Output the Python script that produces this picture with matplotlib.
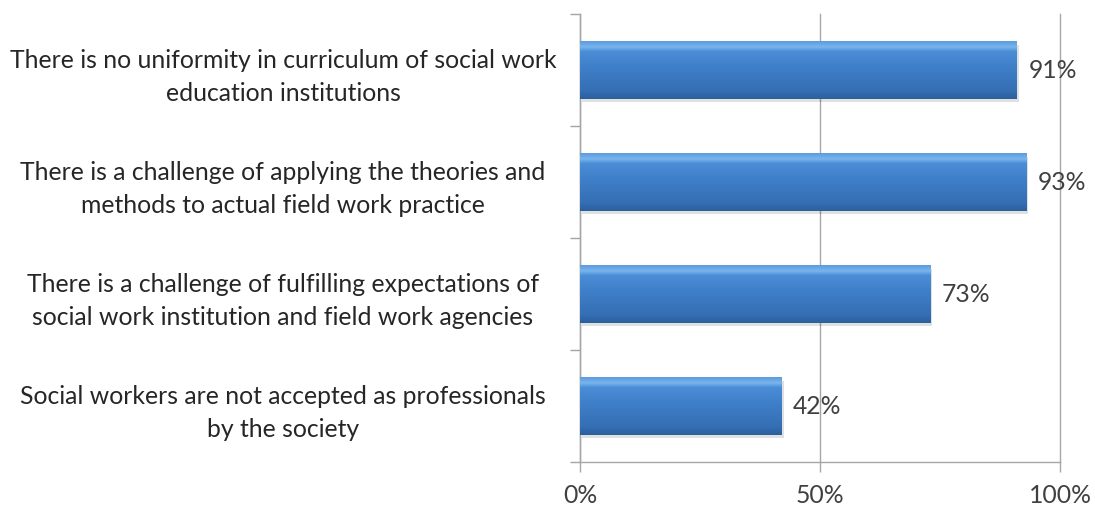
import matplotlib
matplotlib.use("Agg")
import matplotlib.pyplot as plt
import numpy as np
from matplotlib.colors import LinearSegmentedColormap
from matplotlib.ticker import FixedLocator

categories = [
    "There is no uniformity in curriculum of social work\neducation institutions",
    "There is a challenge of applying the theories and\nmethods to actual field work practice",
    "There is a challenge of fulfilling expectations of\nsocial work institution and field work agencies",
    "Social workers are not accepted as professionals\nby the society",
]
values = [91, 93, 73, 42]
xticks = [0, 50, 100]
xtick_labels = ["0%", "50%", "100%"]

plt.rcParams['font.family'] = ['Lato', 'DejaVu Sans']
FS = 17.8

fig = plt.figure(figsize=(10.95, 5.08), dpi=100)
ax = fig.add_axes([580/1095, 1-462/508, 480/1095, 448/508])

n = len(categories)
ypos = np.arange(n)[::-1]
h = 0.51
bars = ax.barh(ypos, values, height=h, color='#3f7fcb', edgecolor='none', zorder=3)

cmap = LinearSegmentedColormap.from_list('bar', [
    (0.0, '#2c5f9c'), (0.15, '#356fb5'), (0.55, '#3f7fc9'),
    (0.82, '#4a8dd6'), (0.9, '#7ab6ec'), (1.0, '#5a9ade')])
grad = np.linspace(0, 1, 256).reshape(-1, 1)
for b in bars:
    x0, y0 = b.get_x(), b.get_y()
    w, hh = b.get_width(), b.get_height()
    ax.add_patch(plt.Rectangle((x0 + 0.4, y0 - 0.03), w, hh, color='#000000', alpha=0.12,
                               zorder=2, lw=0))
    im = ax.imshow(grad, extent=(x0, x0 + w, y0, y0 + hh), origin='lower', cmap=cmap,
                   aspect='auto', zorder=4, interpolation='bilinear')
    im.set_clip_path(b)

for y, v in zip(ypos, values):
    ax.text(v + 2.4, y, f"{v}%", va='center', ha='left', fontsize=FS, color='#404040', zorder=5)

ax.set_xlim(0, 100)
ax.set_ylim(-0.5, n - 0.5)
ax.set_xticks(xticks)
ax.set_xticklabels(xtick_labels, fontsize=FS, color='#404040')
ax.xaxis.grid(True, color='#a6a6a6', lw=1, zorder=0)
for gl in ax.get_xgridlines():
    gl.set_clip_on(False)
ax.set_axisbelow(True)
ax.set_yticks(ypos)
ax.set_yticklabels(categories, fontsize=FS, color='#262626', ha='center', multialignment='center',
                   linespacing=1.55)
ax.yaxis.set_minor_locator(FixedLocator(np.arange(-0.5, n, 1.0)))
ax.tick_params(axis='y', which='major', length=0, pad=297 * 72 / 100)
ax.tick_params(axis='y', which='minor', length=7, color='#a6a6a6', width=1)
ax.tick_params(axis='x', which='major', length=7, color='#a6a6a6', width=1, pad=9)
for s in ['top', 'right']:
    ax.spines[s].set_visible(False)
for s in ['left', 'bottom']:
    ax.spines[s].set_color('#a6a6a6')
    ax.spines[s].set_linewidth(1)

fig.savefig('out.png', dpi=100, facecolor='white')
